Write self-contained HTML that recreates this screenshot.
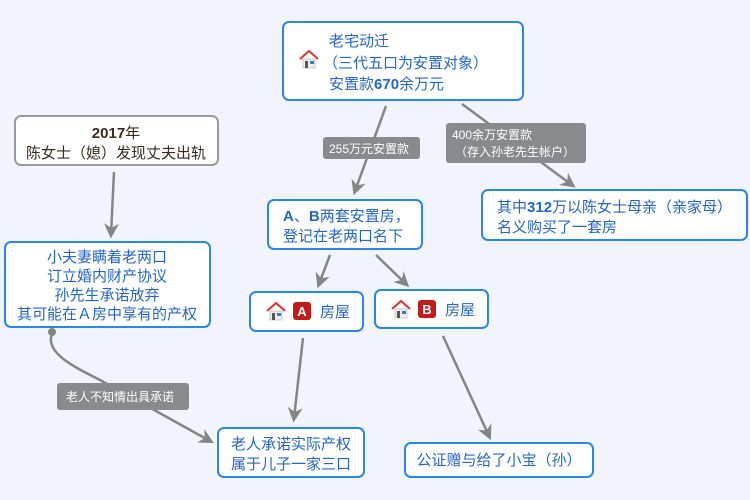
<!DOCTYPE html>
<html><head><meta charset="utf-8"><style>
html,body{margin:0;padding:0;background:#f1f4fd;}
svg{display:block}
text{font-family:"Liberation Sans","Noto Sans CJK SC",sans-serif;}
.b{fill:#fff;stroke:#2a86e8;stroke-width:2}
.t{fill:#2566c4;font-size:15px}
.l{fill:#888a8e}
.lt{fill:#fff;font-size:12px}
.a{stroke:#858585;stroke-width:2.5;fill:none}
</style></head><body>
<svg width="750" height="500" viewBox="0 0 750 500">
<defs>
<marker id="m" viewBox="0 0 10 10" refX="7" refY="5" markerWidth="6" markerHeight="6" orient="auto" markerUnits="strokeWidth"><path d="M0,0 L10,5 L0,10 L3,5 z" fill="#858585"/></marker>
<g id="h"><path d="M0,9 L9,1 L18,9" stroke="#e03030" stroke-width="2" fill="none"/><rect x="3" y="9" width="12" height="9" fill="#eee" stroke="#aaa" stroke-width="0.6"/><rect x="5" y="11" width="3" height="7" fill="#555"/><rect x="10" y="11" width="4" height="3" fill="#3a78c8"/></g>
</defs>
<rect width="750" height="500" fill="#f1f4fd"/>
<line class="a" x1="114" y1="172" x2="111" y2="234" marker-end="url(#m)"/>
<line class="a" x1="386" y1="106" x2="355" y2="191" marker-end="url(#m)"/>
<line class="a" x1="462" y1="104" x2="572" y2="185" marker-end="url(#m)"/>
<line class="a" x1="330" y1="255" x2="319" y2="284" marker-end="url(#m)"/>
<line class="a" x1="376" y1="255" x2="406" y2="284" marker-end="url(#m)"/>
<line class="a" x1="303" y1="338" x2="294" y2="418" marker-end="url(#m)"/>
<line class="a" x1="443" y1="336" x2="489" y2="436" marker-end="url(#m)"/>
<path class="a" d="M52,333 C45,352 70,365 100,380 L210,441" marker-end="url(#m)"/>
<circle cx="52" cy="332" r="4" fill="#858585"/>
<rect class="l" x="323" y="137" width="97" height="22" rx="3"/>
<text class="lt" x="329" y="153">255万元安置款</text>
<rect class="l" x="446" y="123" width="140" height="40" rx="3"/>
<text class="lt" x="452" y="139">400余万安置款</text>
<text class="lt" x="455" y="156">（存入孙老先生帐户）</text>
<rect class="l" x="57" y="383" width="132" height="27" rx="3"/>
<text class="lt" x="66" y="401">老人不知情出具承诺</text>

<rect class="b" x="283" y="22" width="240" height="78" rx="6"/>
<use href="#h" x="300" y="50"/>
<text class="t" x="329" y="46" font-size="16">老宅动迁</text>
<text class="t" x="323" y="68" font-size="16">（三代五口为安置对象）</text>
<text class="t" x="329" y="89" font-size="16">安置款<tspan font-weight="bold">670</tspan>余万元</text>

<rect x="15" y="116" width="203" height="49" rx="6" fill="#fff" stroke="#9a9a9a" stroke-width="2"/>
<text x="116" y="138" text-anchor="middle" font-size="15" fill="#3a2a1a"><tspan font-weight="bold">2017</tspan>年</text>
<text x="116" y="158" text-anchor="middle" font-size="15" fill="#3a2a1a">陈女士（媳）发现丈夫出轨</text>

<rect class="b" x="5" y="242" width="205" height="85" rx="6"/>
<text class="t" x="107" y="262" text-anchor="middle">小夫妻瞒着老两口</text>
<text class="t" x="107" y="281" text-anchor="middle">订立婚内财产协议</text>
<text class="t" x="107" y="300" text-anchor="middle">孙先生承诺放弃</text>
<text class="t" x="107" y="319" text-anchor="middle">其可能在Ａ房中享有的产权</text>

<rect class="b" x="268" y="200" width="154" height="49" rx="6"/>
<text class="t" x="283" y="221"><tspan font-weight="bold">A</tspan>、<tspan font-weight="bold">B</tspan>两套安置房，</text>
<text class="t" x="283" y="241">登记在老两口名下</text>

<rect class="b" x="482" y="190" width="265" height="50" rx="6"/>
<text class="t" x="497" y="212">其中<tspan font-weight="bold">312</tspan>万以陈女士母亲（亲家母）</text>
<text class="t" x="497" y="232">名义购买了一套房</text>

<rect class="b" x="250" y="292" width="113" height="39" rx="6"/>
<use href="#h" x="267" y="302"/>
<rect x="293" y="302" width="18" height="18" rx="3" fill="#c41a1a"/>
<text x="302" y="316" text-anchor="middle" font-size="13" font-weight="bold" fill="#fff">A</text>
<text class="t" x="320" y="317">房屋</text>

<rect class="b" x="375" y="290" width="113" height="38" rx="6"/>
<use href="#h" x="392" y="300"/>
<rect x="418" y="300" width="18" height="18" rx="3" fill="#c41a1a"/>
<text x="427" y="314" text-anchor="middle" font-size="13" font-weight="bold" fill="#fff">B</text>
<text class="t" x="445" y="315">房屋</text>

<rect class="b" x="218" y="428" width="146" height="49" rx="6"/>
<text class="t" x="291" y="449" text-anchor="middle">老人承诺实际产权</text>
<text class="t" x="291" y="469" text-anchor="middle">属于儿子一家三口</text>

<rect class="b" x="405" y="443" width="188" height="34" rx="6"/>
<text class="t" x="499" y="465" text-anchor="middle">公证赠与给了小宝（孙）</text>
</svg>
</body></html>
